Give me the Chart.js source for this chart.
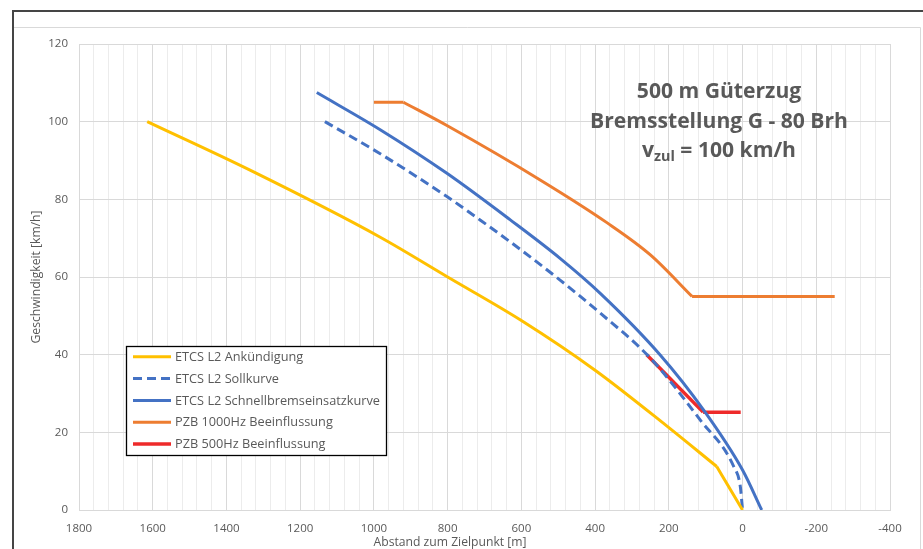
<!DOCTYPE html>
<html>
<head>
<meta charset="utf-8">
<script src="https://cdn.jsdelivr.net/npm/chart.js@4/dist/chart.umd.min.js"></script>
<style>
  html, body { margin: 0; padding: 0; background: #ffffff; overflow: hidden; }
  #wrap { width: 923px; height: 549px; position: relative; }
</style>
</head>
<body>
<div id="wrap"><canvas id="c" width="923" height="549"></canvas></div>
<script>
// Distance to target point [m] and speed [km/h] for each curve
const ankuendigungX = [1615, 1336, 984, 800, 600, 400, 205, 70, 0];
const ankuendigungY = [100, 87.5, 70.3, 60, 48.8, 36.0, 21.6, 11.2, 0];
const ankuendigungCorners = [7];

const sollX = [1133, 984, 802, 712, 600, 495, 386, 250, 115, 24, 6, 0];
const sollY = [100, 91.8, 80.7, 74.7, 66.9, 59.2, 50.7, 39.1, 23.2, 11.2, 6, 0];
const sollCorners = [];

const schnellX = [1155, 984, 802, 630, 495, 386, 224, 106, 0, -52];
const schnellY = [107.5, 98, 86.7, 74.7, 64.8, 55.8, 40, 25.8, 10.3, 0];
const schnellCorners = [];

const pzb1000X = [1000, 920, 802, 549, 368, 250, 137, -250];
const pzb1000Y = [105, 105, 99, 85, 74, 65.7, 55, 55];
const pzb1000Corners = [1, 6];

const pzb500X = [260, 107, 5];
const pzb500Y = [40, 25.2, 25.2];
const pzb500Corners = [1];

const seriesNames = [
  'ETCS L2 Ankündigung',
  'ETCS L2 Sollkurve',
  'ETCS L2 Schnellbremseinsatzkurve',
  'PZB 1000Hz Beeinflussung',
  'PZB 500Hz Beeinflussung'
];

const xTicksMajor = [1800, 1600, 1400, 1200, 1000, 800, 600, 400, 200, 0, -200, -400];
const yTicks = [0, 20, 40, 60, 80, 100, 120];

const titleLines = ['500 m Güterzug', 'Bremsstellung G - 80 Brh'];
const speedLabel = { main: 'v', sub: 'zul', rest: ' = 100 km/h' };
const xTitle = 'Abstand zum Zielpunkt [m]';
const yTitle = 'Geschwindigkeit [km/h]';

const GREY = '#595959';
const FONT = '"Open Sans", "Noto Sans", sans-serif';

// Split a series at its sharp corners; each piece is drawn as its own smooth line
function seriesPieces(name, xs, ys, corners, style) {
  const cuts = [0, ...corners, xs.length - 1];
  const out = [];
  for (let k = 0; k < cuts.length - 1; k++) {
    const data = [];
    for (let i = cuts[k]; i <= cuts[k + 1]; i++) data.push({ x: xs[i], y: ys[i] });
    out.push(Object.assign({ label: name, data: data, legendEntry: k === 0, cubicInterpolationMode: 'monotone' }, style));
  }
  return out;
}

const datasets = [
  ...seriesPieces(seriesNames[0], ankuendigungX, ankuendigungY, ankuendigungCorners, { borderColor: '#ffc000', borderWidth: 3 }),
  ...seriesPieces(seriesNames[1], sollX, sollY, sollCorners, { borderColor: '#4472c4', borderWidth: 3, borderDash: [9, 5] }),
  ...seriesPieces(seriesNames[2], schnellX, schnellY, schnellCorners, { borderColor: '#4472c4', borderWidth: 3 }),
  ...seriesPieces(seriesNames[3], pzb1000X, pzb1000Y, pzb1000Corners, { borderColor: '#ed7d31', borderWidth: 3 }),
  ...seriesPieces(seriesNames[4], pzb500X, pzb500Y, pzb500Corners, { borderColor: '#ee2a2a', borderWidth: 3.5 })
];

// font size that makes a text span a given width
function fitFont(ctx, text, weight, width) {
  ctx.font = weight + ' 20px ' + FONT;
  return 20 * width / ctx.measureText(text).width;
}

// White background and the outer frame lines
const framePlugin = {
  id: 'frame',
  beforeDraw(chart) {
    const ctx = chart.ctx;
    ctx.save();
    ctx.fillStyle = '#ffffff';
    ctx.fillRect(0, 0, chart.width, chart.height);
    ctx.strokeStyle = '#d9d9d9';
    ctx.lineWidth = 1;
    ctx.beginPath();
    ctx.moveTo(14, 27.5); ctx.lineTo(920.5, 27.5); ctx.lineTo(920.5, chart.height);
    ctx.stroke();
    ctx.strokeStyle = '#454545';
    ctx.lineWidth = 2;
    ctx.beginPath();
    ctx.moveTo(13, chart.height); ctx.lineTo(13, 11); ctx.lineTo(chart.width, 11);
    ctx.stroke();
    ctx.restore();
  }
};

// Legend box, heading text and axis titles
const overlayPlugin = {
  id: 'overlay',
  afterDraw(chart) {
    const ctx = chart.ctx;
    const area = chart.chartArea;
    ctx.save();

    // legend
    const box = { x: 126.5, y: 346.5, w: 260, h: 109 };
    ctx.fillStyle = '#ffffff';
    ctx.fillRect(box.x, box.y, box.w, box.h);
    ctx.strokeStyle = '#000000';
    ctx.lineWidth = 1.3;
    ctx.strokeRect(box.x, box.y, box.w, box.h);
    const legendSize = fitFont(ctx, seriesNames[2], 'normal', 205);
    ctx.font = legendSize.toFixed(2) + 'px ' + FONT;
    ctx.textAlign = 'left';
    ctx.textBaseline = 'middle';
    chart.data.datasets.filter(ds => ds.legendEntry).forEach((ds, i) => {
      const y = 356.7 + i * 21.85;
      ctx.strokeStyle = ds.borderColor;
      ctx.lineWidth = ds.borderWidth;
      ctx.setLineDash(ds.borderDash || []);
      ctx.lineCap = 'butt';
      ctx.beginPath();
      ctx.moveTo(133, y); ctx.lineTo(171, y);
      ctx.stroke();
      ctx.setLineDash([]);
      ctx.fillStyle = GREY;
      ctx.fillText(ds.label, 175, y + 0.5);
    });

    // heading
    const cx = 719;
    const headSize = fitFont(ctx, titleLines[1], 'bold', 258);
    const fMain = 'bold ' + headSize.toFixed(2) + 'px ' + FONT;
    const fSub = 'bold ' + (headSize * 0.68).toFixed(2) + 'px ' + FONT;
    ctx.fillStyle = GREY;
    ctx.textAlign = 'center';
    ctx.textBaseline = 'alphabetic';
    ctx.font = fMain;
    ctx.fillText(titleLines[0], cx, 97.7);
    ctx.fillText(titleLines[1], cx, 128.3);
    ctx.font = fMain; const w1 = ctx.measureText(speedLabel.main).width;
    const w3 = ctx.measureText(speedLabel.rest).width;
    ctx.font = fSub; const w2 = ctx.measureText(speedLabel.sub).width;
    let sx = cx - (w1 + w2 + w3) / 2;
    ctx.textAlign = 'left';
    ctx.font = fMain; ctx.fillText(speedLabel.main, sx, 156.7); sx += w1;
    ctx.font = fSub; ctx.fillText(speedLabel.sub, sx, 160.5); sx += w2;
    ctx.font = fMain; ctx.fillText(speedLabel.rest, sx, 156.7);

    // axis titles
    const axisSize = fitFont(ctx, xTitle, 'normal', 153);
    ctx.font = axisSize.toFixed(2) + 'px ' + FONT;
    ctx.textAlign = 'center';
    ctx.textBaseline = 'middle';
    ctx.fillText(xTitle, 450, 542.5);
    ctx.translate(37, (area.top + area.bottom) / 2);
    ctx.rotate(-Math.PI / 2);
    ctx.fillText(yTitle, 0, 0);
    ctx.restore();
  }
};

const chart = new Chart(document.getElementById('c'), {
  type: 'line',
  data: { datasets: datasets },
  options: {
    responsive: false,
    animation: false,
    devicePixelRatio: 1,
    layout: { padding: { left: 24, top: 44, right: 33, bottom: 0 } },
    elements: { point: { radius: 0, hoverRadius: 0 }, line: { fill: false, borderJoinStyle: 'round', borderCapStyle: 'butt' } },
    plugins: { legend: { display: false }, tooltip: { enabled: false } },
    scales: {
      x: {
        type: 'linear',
        min: -400, max: 1800, reverse: true,
        afterFit(scale) { scale.height = 39; },
        ticks: {
          stepSize: 40, autoSkip: false, maxRotation: 0, padding: 12,
          color: GREY, font: { family: FONT, size: 11.5 },
          callback: (v) => (xTicksMajor.includes(v) ? String(v) : '')
        },
        grid: {
          drawTicks: false, lineWidth: 1,
          color: (c) => (c.tick && xTicksMajor.includes(c.tick.value) ? '#d9d9d9' : '#ececec')
        },
        border: { color: '#d9d9d9' },
        title: { display: false }
      },
      y: {
        type: 'linear',
        min: 0, max: 120,
        afterFit(scale) { scale.width = 55; },
        afterBuildTicks(scale) { scale.ticks = yTicks.map(v => ({ value: v })); },
        ticks: {
          padding: 11, color: GREY, font: { family: FONT, size: 11.5 },
          callback: (v) => String(v)
        },
        grid: { drawTicks: false, color: '#d9d9d9', lineWidth: 1 },
        border: { color: '#d9d9d9' },
        title: { display: false }
      }
    }
  },
  plugins: [framePlugin, overlayPlugin]
});
</script>
</body>
</html>
